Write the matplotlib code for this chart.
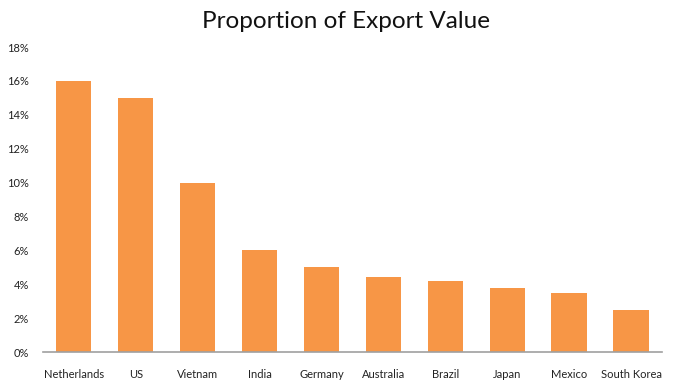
import matplotlib
matplotlib.use("Agg")
import matplotlib.pyplot as plt
from matplotlib.ticker import FuncFormatter

countries = ["Netherlands", "US", "Vietnam", "India", "Germany",
             "Australia", "Brazil", "Japan", "Mexico", "South Korea"]
shares = [16.0, 15.0, 10.0, 6.0, 5.0, 4.4, 4.2, 3.8, 3.5, 2.5]
yticks = [0, 2, 4, 6, 8, 10, 12, 14, 16, 18]

plt.rcParams["font.family"] = ["Lato", "DejaVu Sans"]

fig = plt.figure(figsize=(6.91, 3.86), dpi=100)
ax = fig.add_axes([0.062, 0.088, 0.896, 0.79])

ax.bar(range(len(countries)), shares, width=0.57, color="#F79646")
ax.set_xlim(-0.5, len(countries) - 0.5)
ax.set_ylim(0, 18)
ax.set_yticks(yticks)
ax.yaxis.set_major_formatter(FuncFormatter(lambda v, p: "%d%%" % v))
ax.set_xticks(range(len(countries)))
ax.set_xticklabels(countries)
ax.tick_params(axis="both", length=0, labelsize=8, colors="#222222")
ax.tick_params(axis="x", pad=12)
ax.tick_params(axis="y", pad=10)

for s in ["top", "right", "left"]:
    ax.spines[s].set_visible(False)
ax.spines["bottom"].set_color("#A0A0A0")
ax.spines["bottom"].set_linewidth(1.2)

fig.text(0.5, 0.945, "Proportion of Export Value", ha="center", va="center",
         fontsize=17.5, color="#111111")

fig.savefig("out.png", dpi=100)
